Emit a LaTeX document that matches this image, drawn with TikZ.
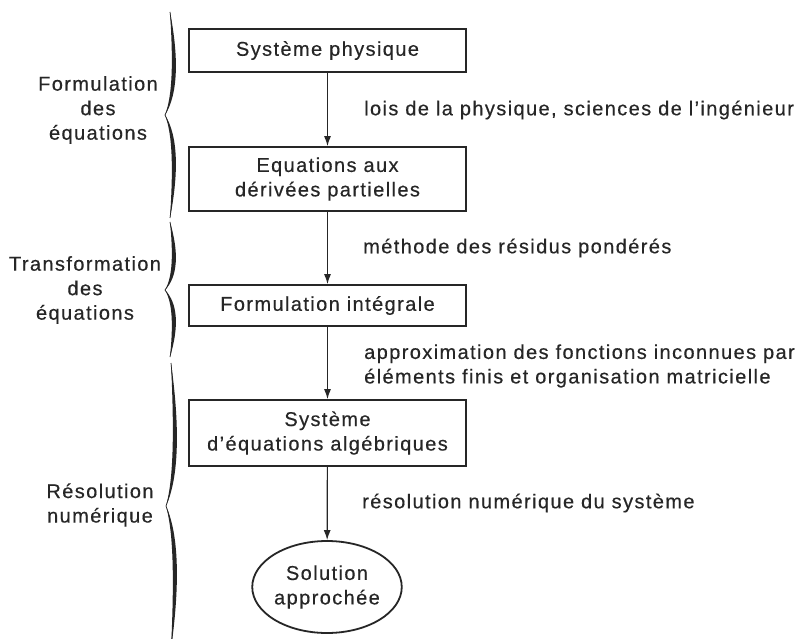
\documentclass[tikz,border=0pt]{standalone}
\usepackage{fontspec}
\newfontfamily\lab[LetterSpace=7,FakeBold=0.4]{Liberation Sans}
\usetikzlibrary{arrows.meta,shapes.geometric}
\definecolor{ink}{HTML}{262626}
\newcommand\mybrace[4]{%
 \fill[ink] ({#1-1},#2) .. controls ({#1+8},{#2+0.45*(#3-#2)}) and ({#1+7},{#3-0.2*(#3-#2)}) .. ({#1-6},#3)
   .. controls ({#1+7},{#3+0.2*(#4-#3)}) and ({#1+8},{#4-0.45*(#4-#3)}) .. ({#1-1},#4)
   .. controls ({#1+2},{#4-0.45*(#4-#3)}) and ({#1+2},{#3+0.2*(#4-#3)}) .. ({#1-6},#3)
   .. controls ({#1+2},{#3-0.2*(#3-#2)}) and ({#1+2},{#2+0.45*(#3-#2)}) .. ({#1-1},#2) -- cycle;
 \draw[ink,line width=0.7pt] ({#1-1},#2) .. controls ({#1+5},{#2+0.45*(#3-#2)}) and ({#1+4.5},{#3-0.2*(#3-#2)}) .. ({#1-6},#3)
   .. controls ({#1+4.5},{#3+0.2*(#4-#3)}) and ({#1+5},{#4-0.45*(#4-#3)}) .. ({#1-1},#4);
}
\tikzset{
  txt/.style={font=\lab\fontsize{20}{24.5}\selectfont, text=ink, inner sep=0pt, align=center},
  box/.style={txt, draw=ink, line width=1.7pt, minimum width=277pt, inner sep=0pt},
  oval/.style={txt, draw=ink, line width=1.8pt, ellipse, minimum width=134pt, minimum height=92pt, inner sep=0pt},
  flow/.style={draw=ink, line width=1.2pt, -{Latex[length=10pt,width=7pt]}},
  edgelab/.style={txt, anchor=west, align=left},
}
\begin{document}
\begin{tikzpicture}[x=1pt,y=-1pt]
\clip (0,0) rectangle (798,639);
\fill[white] (0,0) rectangle (798,639);
% boxes
\node[box, minimum height=43pt] (b1) at (327.5,50.5) {Système physique};
\node[box, minimum height=64pt] (b2) at (327.5,179) {Equations aux\\dérivées partielles};
\node[box, minimum height=41pt] (b3) at (327.5,305.5) {Formulation intégrale};
\node[box, minimum height=66pt] (b4) at (327.5,433) {Système\\d’équations algébriques};
\node[oval] (b5) at (327,587) {Solution\\approchée};
% arrows
\draw[flow] (b1) -- (b2);
\draw[flow] (b2) -- (b3);
\draw[flow] (b3) -- (b4);
\draw[flow] (b4) -- (b5);
% edge labels
\node[edgelab] (l1) at (364,110) {lois de la physique, sciences de l’ingénieur};
\node[edgelab] (l2) at (363,248) {méthode des résidus pondérés};
\node[edgelab] (l3) at (364,366) {approximation des fonctions inconnues par\\éléments finis et organisation matricielle};
\node[edgelab] (l4) at (362,503) {résolution numérique du système};
% left labels
\node[txt] (g1) at (98,110) {Formulation\\des\\équations};
\node[txt] (g2) at (85,290) {Transformation\\des\\équations};
\node[txt] (g3) at (100,505) {Résolution\\numérique};
% braces
\mybrace{171}{12}{115}{218}
\mybrace{171}{222}{290}{357}
\mybrace{172}{363}{506}{649}
\end{tikzpicture}
\end{document}
